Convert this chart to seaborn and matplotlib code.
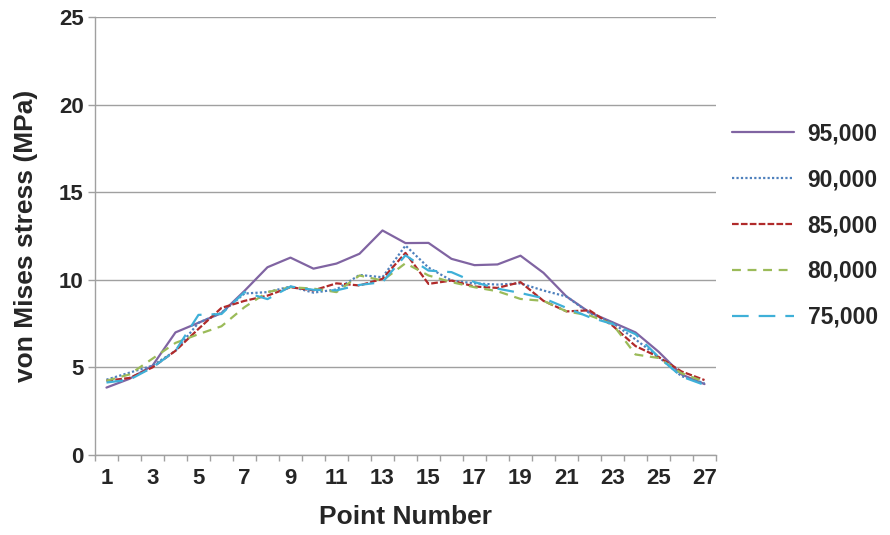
import matplotlib
matplotlib.use("Agg")
import matplotlib.pyplot as plt
import seaborn as sns
import pandas as pd

points = list(range(1, 28))
s95 = [3.85, 4.35, 5.1, 7.0, 7.55, 8.1, 9.37, 10.72, 11.27, 10.64, 10.93, 11.49, 12.82,
       12.1, 12.11, 11.2, 10.84, 10.88, 11.38, 10.4, 9.05, 8.15, 7.58, 7.0, 5.9, 4.6, 4.05]
s90 = [4.3, 4.7, 5.1, 5.95, 7.55, 8.12, 9.22, 9.3, 9.62, 9.27, 9.45, 10.28, 10.15,
       11.96, 10.7, 9.96, 9.8, 9.73, 9.8, 9.39, 9.05, 8.1, 7.55, 6.6, 5.6, 4.5, 4.1]
s85 = [4.24, 4.4, 5.0, 5.95, 7.2, 8.4, 8.8, 9.1, 9.58, 9.4, 9.8, 9.68, 10.06,
       11.54, 9.77, 9.96, 9.62, 9.54, 9.87, 8.8, 8.2, 8.26, 7.39, 6.22, 5.6, 4.77, 4.28]
s80 = [4.24, 4.6, 5.5, 6.4, 6.9, 7.35, 8.44, 9.3, 9.58, 9.5, 9.3, 10.25, 9.96,
       10.95, 10.25, 9.87, 9.58, 9.35, 8.91, 8.8, 8.2, 7.97, 7.48, 5.74, 5.54, 4.67, 4.19]
s75 = [4.14, 4.3, 5.0, 5.95, 8.0, 8.05, 9.3, 8.9, 9.62, 9.43, 9.4, 9.71, 9.87,
       11.4, 10.53, 10.44, 9.87, 9.5, 9.25, 8.95, 8.4, 7.87, 7.48, 6.9, 5.6, 4.48, 4.0]
labels = ["95,000", "90,000", "85,000", "80,000", "75,000"]
yticks = [0, 5, 10, 15, 20, 25]
xtick_labels = [str(i) for i in range(1, 28, 2)]

colors = ["#8064A2", "#4F81BD", "#B02A2A", "#9BBB59", "#3FB0D8"]
dash_styles = ["-", (0, (1, 1)), (0, (3, 1)), (0, (4, 3)), (0, (7.5, 4.5))]
widths = [1.6, 1.6, 1.6, 1.6, 1.6]

sns.set_theme(style="white")
plt.rcParams["font.family"] = ["Liberation Sans", "DejaVu Sans"]
plt.rcParams["font.weight"] = "bold"

fig = plt.figure(figsize=(8.9, 5.35), dpi=100)
ax = fig.add_axes([0.1067, 0.1495, 0.6978, 0.8185])

for vals, lab, c, ls, lw in zip([s95, s90, s85, s80, s75], labels, colors, dash_styles, widths):
    df = pd.DataFrame({"Point": points, "Stress": vals})
    sns.lineplot(data=df, x="Point", y="Stress", ax=ax, color=c, linestyle=ls,
                 linewidth=lw, label=lab)

ax.set_xlim(0.5, 27.5)
ax.set_ylim(0, 25)
ax.set_yticks(yticks)
ax.set_yticklabels([str(v) for v in yticks], fontsize=16, fontweight="bold")
ax.set_xticks(list(range(1, 28, 2)))
ax.set_xticklabels(xtick_labels, fontsize=16, fontweight="bold")
ax.set_xticks([i + 0.5 for i in range(0, 28)], minor=True)
ax.tick_params(axis="x", which="major", length=0, pad=9)
ax.tick_params(axis="x", which="minor", length=4, color="#A0A0A0", width=1, direction="out", bottom=True)
ax.tick_params(axis="y", which="major", length=5, color="#A0A0A0", width=1, direction="out", left=True, pad=3)

ax.yaxis.grid(True, color="#A0A0A0", linewidth=1)
ax.set_axisbelow(True)
for side in ["top", "right"]:
    ax.spines[side].set_visible(False)
for side in ["left", "bottom"]:
    ax.spines[side].set_color("#A0A0A0")
    ax.spines[side].set_linewidth(1)

ax.set_xlabel("Point Number", fontsize=19, fontweight="bold", labelpad=12)
ax.set_ylabel("von Mises stress (MPa)", fontsize=19, fontweight="bold", labelpad=15)

leg = ax.legend(loc="center left", bbox_to_anchor=(0.992, 0.524), frameon=False,
                fontsize=16.5, handlelength=2.7, labelspacing=1.0, handletextpad=0.62)
for t in leg.get_texts():
    t.set_fontweight("bold")

fig.savefig("out.png", dpi=100)
